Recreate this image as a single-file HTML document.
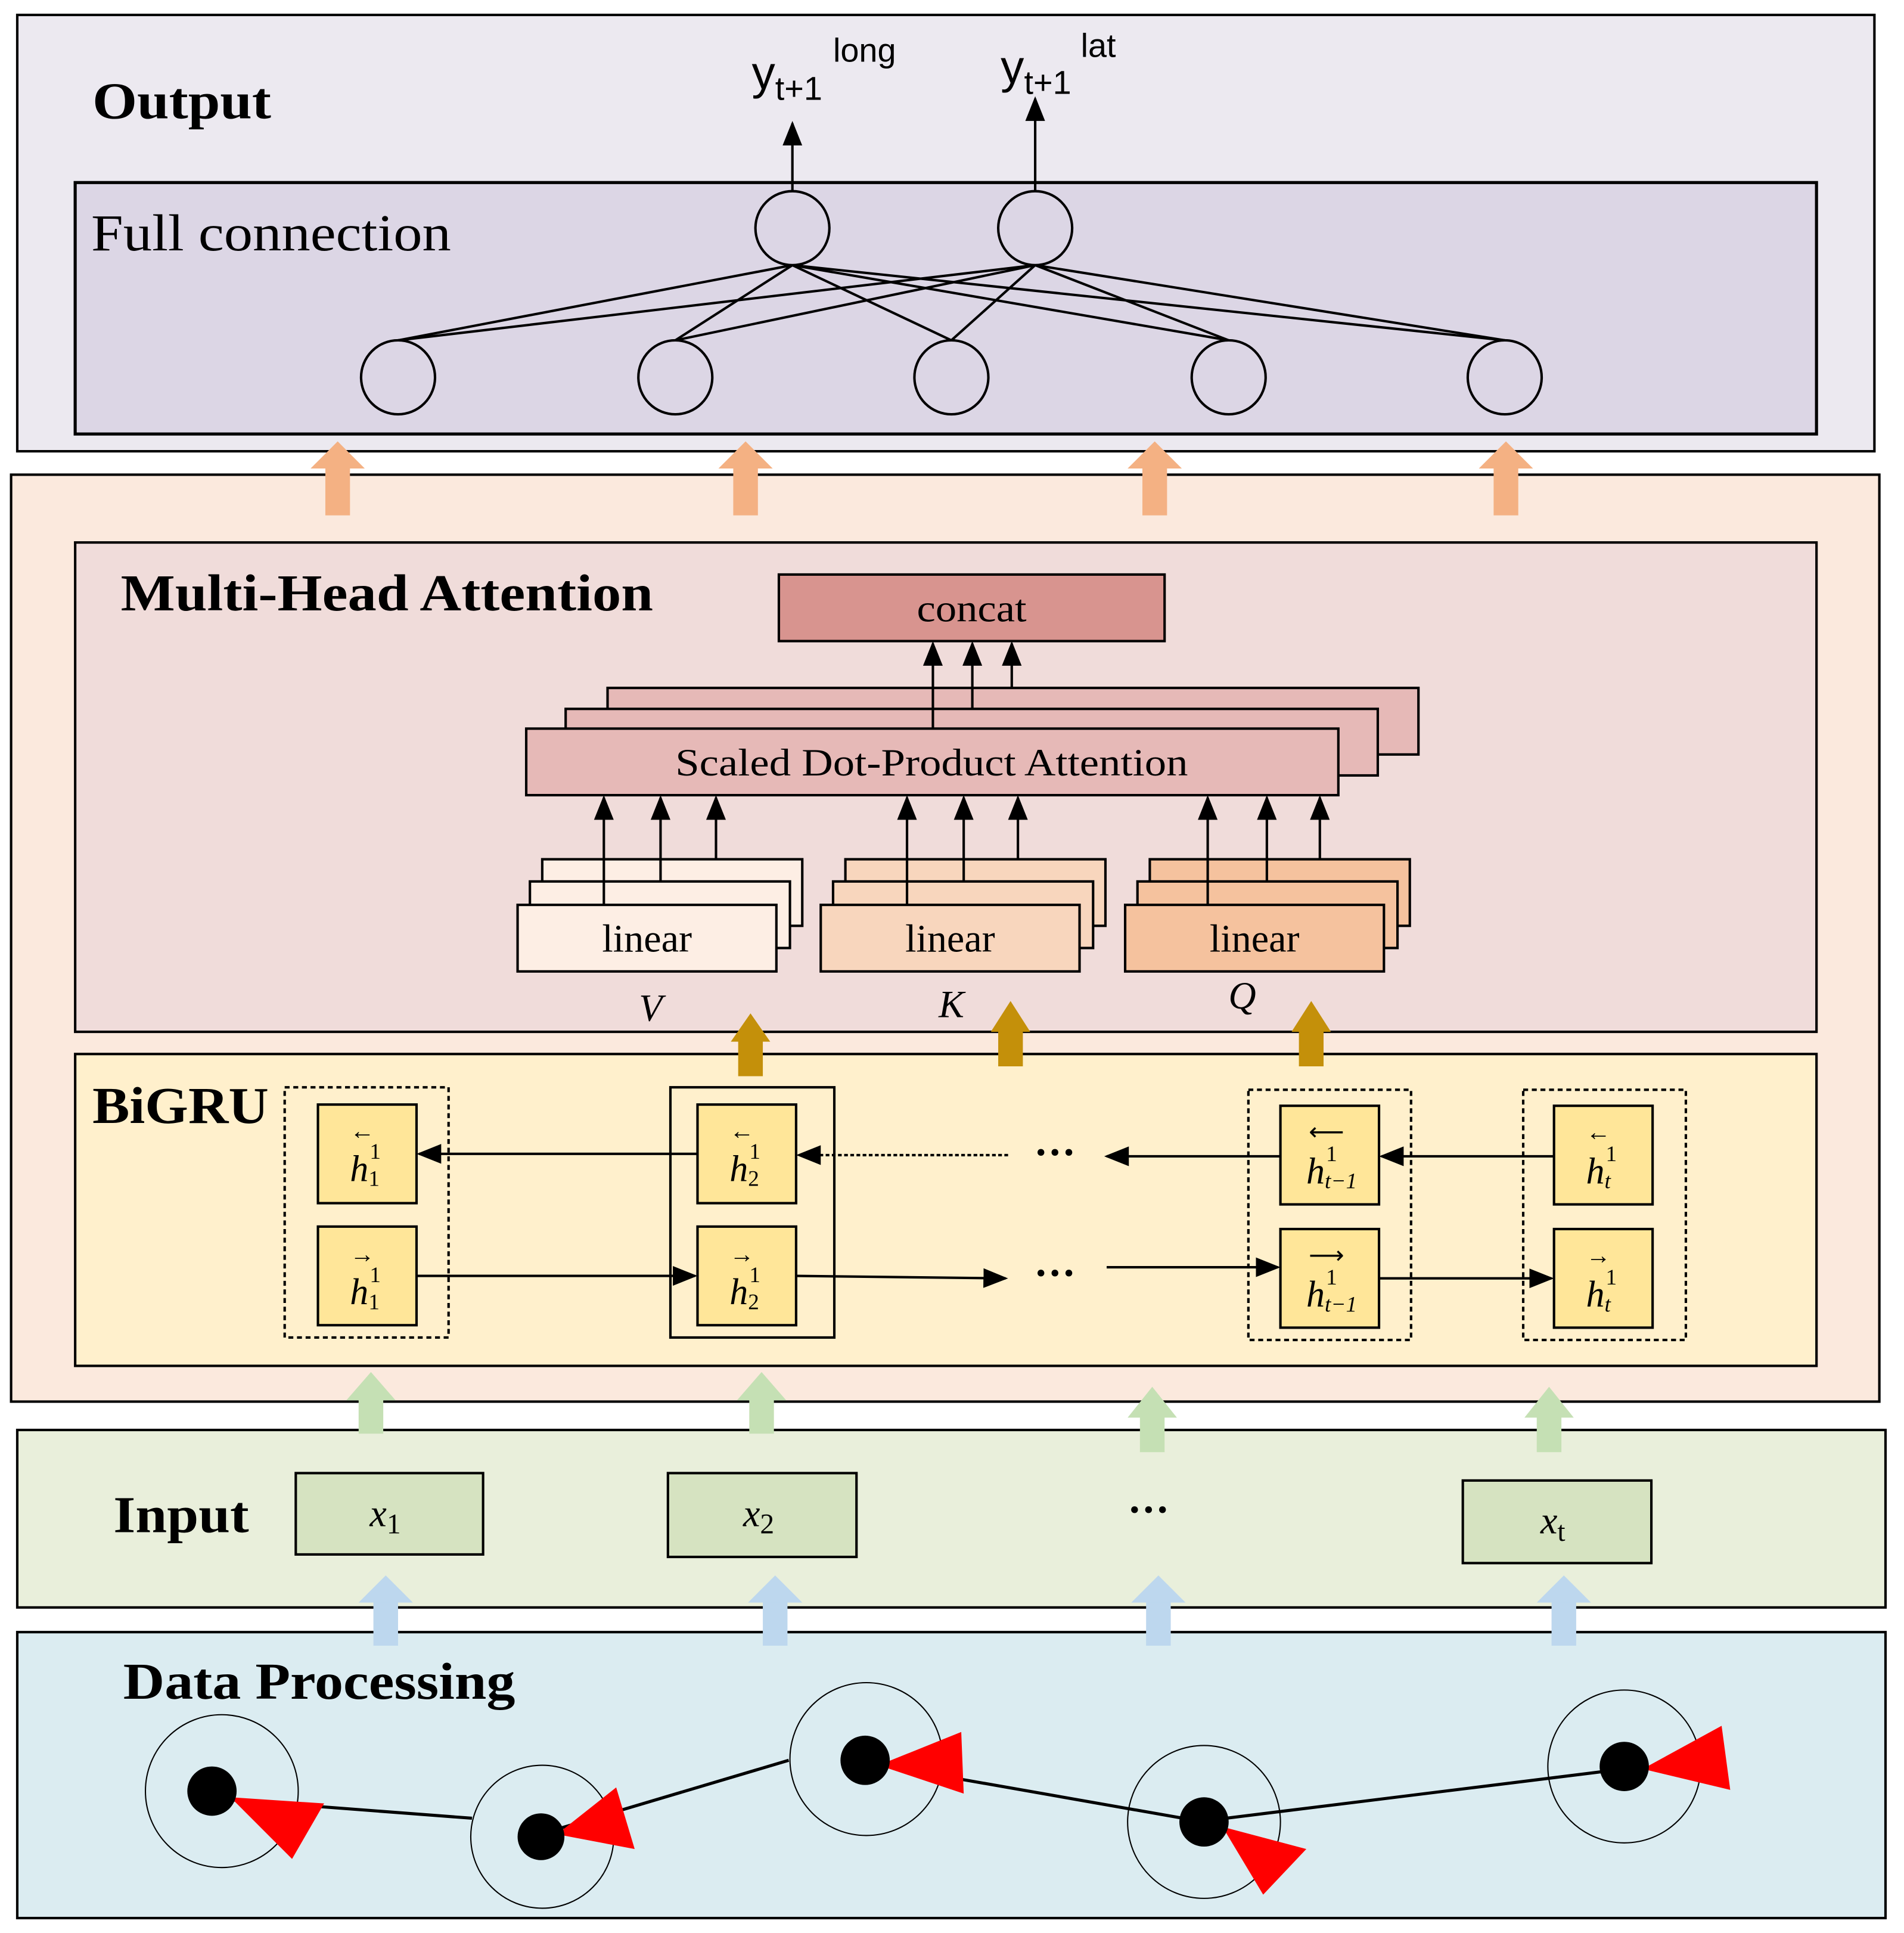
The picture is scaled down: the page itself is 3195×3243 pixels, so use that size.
<!DOCTYPE html>
<html><head><meta charset="utf-8"><style>html,body{margin:0;padding:0;background:#fff}svg{display:block}</style></head>
<body>
<svg width="3195" height="3243" viewBox="0 0 1545 1568" xmlns="http://www.w3.org/2000/svg" font-family="Liberation Serif, serif">
<defs>
<marker id="b" markerWidth="20" markerHeight="20" refX="18" refY="10" orient="auto" markerUnits="userSpaceOnUse" viewBox="0 0 20 20"><path d="M0,2 L20,10 L0,18 z" fill="#000"/></marker>
</defs>
<rect width="1545" height="1568" fill="#fff"/>
<!-- Output -->
<rect x="14" y="12" width="1507" height="354" fill="#ece9f0" stroke="#000" stroke-width="2"/>
<rect x="61" y="148" width="1413" height="204" fill="#dcd6e5" stroke="#000" stroke-width="2.5"/>
<text x="75" y="96" font-size="42" font-weight="bold" textLength="145" lengthAdjust="spacingAndGlyphs">Output</text>
<text x="74" y="203" font-size="42" textLength="292" lengthAdjust="spacingAndGlyphs">Full connection</text>
<g stroke="#000" stroke-width="2" fill="none">
<line x1="643" y1="215" x2="323" y2="276"/><line x1="643" y1="215" x2="548" y2="276"/><line x1="643" y1="215" x2="772" y2="276"/><line x1="643" y1="215" x2="997" y2="276"/><line x1="643" y1="215" x2="1221" y2="276"/>
<line x1="840" y1="215" x2="323" y2="276"/><line x1="840" y1="215" x2="548" y2="276"/><line x1="840" y1="215" x2="772" y2="276"/><line x1="840" y1="215" x2="997" y2="276"/><line x1="840" y1="215" x2="1221" y2="276"/>
<circle cx="643" cy="185" r="30" fill="#dcd6e5"/><circle cx="840" cy="185" r="30" fill="#dcd6e5"/>
<circle cx="323" cy="306" r="30" fill="#dcd6e5"/><circle cx="548" cy="306" r="30" fill="#dcd6e5"/><circle cx="772" cy="306" r="30" fill="#dcd6e5"/><circle cx="997" cy="306" r="30" fill="#dcd6e5"/><circle cx="1221" cy="306" r="30" fill="#dcd6e5"/>
<line x1="643" y1="155" x2="643" y2="100" marker-end="url(#b)"/>
<line x1="840" y1="155" x2="840" y2="80" marker-end="url(#b)"/>
</g>
<g font-family="Liberation Sans, sans-serif">
<text x="610" y="72" font-size="38">y<tspan font-size="27" dy="9">t+1</tspan></text><text x="676" y="50" font-size="27">long</text>
<text x="812" y="67" font-size="38">y<tspan font-size="27" dy="9">t+1</tspan></text><text x="877" y="46" font-size="27">lat</text>
</g>
<!-- Attention outer -->
<rect x="9" y="385" width="1516" height="752" fill="#fbe9dd" stroke="#000" stroke-width="2"/>
<g fill="#f4b183">
<rect x="264" y="378" width="20" height="40"/><path d="M252,380 L274,358 L296,380 z"/>
<rect x="595" y="378" width="20" height="40"/><path d="M583,380 L605,358 L627,380 z"/>
<rect x="927" y="378" width="20" height="40"/><path d="M915,380 L937,358 L959,380 z"/>
<rect x="1212" y="378" width="20" height="40"/><path d="M1200,380 L1222,358 L1244,380 z"/>
</g>
<rect x="61" y="440" width="1413" height="397" fill="#f0dcda" stroke="#000" stroke-width="2"/>
<text x="98" y="495" font-size="42" font-weight="bold" textLength="432" lengthAdjust="spacingAndGlyphs">Multi-Head Attention</text>
<rect x="632" y="466" width="313" height="54" fill="#d8948f" stroke="#000" stroke-width="2"/>
<text x="744" y="504" font-size="31" textLength="89" lengthAdjust="spacingAndGlyphs">concat</text>
<g stroke="#000" stroke-width="2">
<rect x="493" y="558" width="658" height="54" fill="#e6b9b7"/>
<rect x="459" y="575" width="659" height="54" fill="#e6b9b7"/>
<rect x="427" y="591" width="659" height="54" fill="#e6b9b7"/>
</g>
<text x="548" y="629" font-size="31" textLength="416" lengthAdjust="spacingAndGlyphs">Scaled Dot-Product Attention</text>
<g stroke="#000" stroke-width="2">
<line x1="757" y1="591" x2="757" y2="522" marker-end="url(#b)"/>
<line x1="789" y1="575" x2="789" y2="522" marker-end="url(#b)"/>
<line x1="821" y1="558" x2="821" y2="522" marker-end="url(#b)"/>
</g>
<!-- linear -->
<g stroke="#000" stroke-width="2">
<rect x="440" y="697" width="211" height="54" fill="#fdeee4"/><rect x="430" y="715" width="211" height="54" fill="#fdeee4"/><rect x="420" y="734" width="210" height="54" fill="#fdeee4"/>
<rect x="686" y="697" width="211" height="54" fill="#f8d6bd"/><rect x="676" y="715" width="211" height="54" fill="#f8d6bd"/><rect x="666" y="734" width="210" height="54" fill="#f8d6bd"/>
<rect x="933" y="697" width="211" height="54" fill="#f5c29e"/><rect x="923" y="715" width="211" height="54" fill="#f5c29e"/><rect x="913" y="734" width="210" height="54" fill="#f5c29e"/>
<line x1="490" y1="734" x2="490" y2="647" marker-end="url(#b)"/><line x1="536" y1="715" x2="536" y2="647" marker-end="url(#b)"/><line x1="581" y1="697" x2="581" y2="647" marker-end="url(#b)"/>
<line x1="736" y1="734" x2="736" y2="647" marker-end="url(#b)"/><line x1="782" y1="715" x2="782" y2="647" marker-end="url(#b)"/><line x1="826" y1="697" x2="826" y2="647" marker-end="url(#b)"/>
<line x1="980" y1="734" x2="980" y2="647" marker-end="url(#b)"/><line x1="1028" y1="715" x2="1028" y2="647" marker-end="url(#b)"/><line x1="1071" y1="697" x2="1071" y2="647" marker-end="url(#b)"/>
</g>
<g font-size="32" text-anchor="middle"><text x="525" y="772">linear</text><text x="771" y="772">linear</text><text x="1018" y="772">linear</text></g>
<g font-size="31" font-style="italic" text-anchor="middle"><text x="528" y="828">V</text><text x="772" y="825">K</text><text x="1008" y="818">Q</text></g>
<!-- BiGRU -->
<rect x="61" y="855" width="1413" height="253" fill="#fff0cc" stroke="#000" stroke-width="2"/>
<g fill="#c4900a">
<rect x="599" y="842" width="20" height="31"/><path d="M593,845 L609,822 L625,845 z"/>
<rect x="810" y="834" width="20" height="31"/><path d="M804,837 L820,812 L836,837 z"/>
<rect x="1054" y="834" width="20" height="31"/><path d="M1048,837 L1064,812 L1080,837 z"/>
</g>
<text x="75" y="911" font-size="42" font-weight="bold" textLength="143" lengthAdjust="spacingAndGlyphs">BiGRU</text>
<g fill="none" stroke="#000" stroke-width="2">
<rect x="231" y="882" width="133" height="203" stroke-dasharray="4,3"/>
<rect x="544" y="882" width="133" height="203"/>
<rect x="1013" y="884" width="132" height="203" stroke-dasharray="4,3"/>
<rect x="1236" y="884" width="132" height="203" stroke-dasharray="4,3"/>
</g>
<g fill="#ffe699" stroke="#000" stroke-width="2">
<rect x="258" y="896" width="80" height="80"/><rect x="258" y="995" width="80" height="80"/>
<rect x="566" y="896" width="80" height="80"/><rect x="566" y="995" width="80" height="80"/>
<rect x="1039" y="897" width="80" height="80"/><rect x="1039" y="997" width="80" height="80"/>
<rect x="1261" y="897" width="80" height="80"/><rect x="1261" y="997" width="80" height="80"/>
</g>
<g stroke="#000" stroke-width="2" fill="none">
<line x1="566" y1="936" x2="340" y2="936" marker-end="url(#b)"/>
<line x1="818" y1="937" x2="648" y2="937" stroke-dasharray="3,2" marker-end="url(#b)"/>
<line x1="1039" y1="938" x2="898" y2="938" marker-end="url(#b)"/>
<line x1="1261" y1="938" x2="1121" y2="938" marker-end="url(#b)"/>
<line x1="338" y1="1035" x2="564" y2="1035" marker-end="url(#b)"/>
<line x1="646" y1="1035" x2="816" y2="1037" marker-end="url(#b)"/>
<line x1="898" y1="1028" x2="1037" y2="1028" marker-end="url(#b)"/>
<line x1="1119" y1="1037" x2="1259" y2="1037" marker-end="url(#b)"/>
</g>
<g font-size="34" font-weight="bold" text-anchor="middle"><text x="856" y="946">···</text><text x="856" y="1044">···</text></g>
<g font-size="30" font-style="italic">
<text x="284" y="958">h</text><text x="300" y="940" font-size="18" font-style="normal">1</text><text x="299" y="962" font-size="18" font-style="normal">1</text><text x="284" y="924" font-size="20" font-style="normal">←</text>
<text x="284" y="1058">h</text><text x="300" y="1040" font-size="18" font-style="normal">1</text><text x="299" y="1062" font-size="18" font-style="normal">1</text><text x="284" y="1024" font-size="20" font-style="normal">→</text>
<text x="592" y="958">h</text><text x="608" y="940" font-size="18" font-style="normal">1</text><text x="607" y="962" font-size="18" font-style="normal">2</text><text x="592" y="924" font-size="20" font-style="normal">←</text>
<text x="592" y="1058">h</text><text x="608" y="1040" font-size="18" font-style="normal">1</text><text x="607" y="1062" font-size="18" font-style="normal">2</text><text x="592" y="1024" font-size="20" font-style="normal">→</text>
<text x="1060" y="960">h</text><text x="1076" y="942" font-size="18" font-style="normal">1</text><text x="1075" y="964" font-size="18">t−1</text><text x="1062" y="925" font-size="20" font-style="normal">⟵</text>
<text x="1060" y="1060">h</text><text x="1076" y="1042" font-size="18" font-style="normal">1</text><text x="1075" y="1064" font-size="18">t−1</text><text x="1062" y="1025" font-size="20" font-style="normal">⟶</text>
<text x="1287" y="960">h</text><text x="1303" y="942" font-size="18" font-style="normal">1</text><text x="1302" y="964" font-size="18">t</text><text x="1287" y="925" font-size="20" font-style="normal">←</text>
<text x="1287" y="1060">h</text><text x="1303" y="1042" font-size="18" font-style="normal">1</text><text x="1302" y="1064" font-size="18">t</text><text x="1287" y="1025" font-size="20" font-style="normal">→</text>
</g>
<!-- Input -->
<rect x="14" y="1160" width="1516" height="144" fill="#e9efdb" stroke="#000" stroke-width="2"/>
<g fill="#c5e0b4">
<rect x="291" y="1133" width="20" height="30"/><path d="M281,1136 L301,1113 L321,1136 z"/>
<rect x="608" y="1133" width="20" height="30"/><path d="M598,1136 L618,1113 L638,1136 z"/>
<rect x="925" y="1148" width="20" height="30"/><path d="M915,1150 L935,1125 L955,1150 z"/>
<rect x="1247" y="1148" width="20" height="30"/><path d="M1237,1150 L1257,1125 L1277,1150 z"/>
</g>
<text x="92" y="1243" font-size="42" font-weight="bold" textLength="110" lengthAdjust="spacingAndGlyphs">Input</text>
<g fill="#d6e3c1" stroke="#000" stroke-width="2">
<rect x="240" y="1195" width="152" height="66"/><rect x="542" y="1195" width="153" height="68"/><rect x="1187" y="1201" width="153" height="67"/>
</g>
<g font-size="31" font-style="italic"><text x="300" y="1238">x<tspan font-size="23" font-style="normal" dy="6">1</tspan></text><text x="603" y="1238">x<tspan font-size="23" font-style="normal" dy="6">2</tspan></text><text x="1250" y="1244">x<tspan font-size="23" font-style="normal" dy="6">t</tspan></text></g>
<text x="932" y="1236" font-size="34" font-weight="bold" text-anchor="middle">···</text>
<!-- Data processing -->
<rect x="14" y="1324" width="1516" height="232" fill="#dbecf1" stroke="#000" stroke-width="2"/>
<g fill="#bdd7ee">
<rect x="303" y="1298" width="20" height="37"/><path d="M291,1300 L313,1278 L335,1300 z"/>
<rect x="619" y="1298" width="20" height="37"/><path d="M607,1300 L629,1278 L651,1300 z"/>
<rect x="930" y="1298" width="20" height="37"/><path d="M918,1300 L940,1278 L962,1300 z"/>
<rect x="1259" y="1298" width="20" height="37"/><path d="M1247,1300 L1269,1278 L1291,1300 z"/>
</g>
<text x="100" y="1378" font-size="42" font-weight="bold" textLength="318" lengthAdjust="spacingAndGlyphs">Data Processing</text>
<g fill="none" stroke="#000" stroke-width="1">
<circle cx="180" cy="1453" r="62"/><circle cx="440" cy="1490" r="58"/><circle cx="703" cy="1427" r="62"/><circle cx="977" cy="1478" r="62"/><circle cx="1318" cy="1433" r="62"/>
</g>
<g stroke="#000" stroke-width="2.5">
<line x1="186" y1="1460" x2="383" y2="1475"/><line x1="455" y1="1483" x2="640" y2="1428"/><line x1="715" y1="1432" x2="977" y2="1478"/><line x1="995" y1="1475" x2="1318" y2="1435"/>
</g>
<g fill="#ff0000">
<path d="M187,1458 L263,1463 L237,1508 z"/>
<path d="M452,1488 L500,1450 L515,1500 z"/>
<path d="M713,1432 L780,1405 L782,1455 z"/>
<path d="M992,1482 L1060,1500 L1025,1537 z"/>
<path d="M1333,1435 L1397,1400 L1404,1452 z"/>
</g>
<g fill="#000">
<circle cx="172" cy="1453" r="20"/><circle cx="439" cy="1490" r="19"/><circle cx="702" cy="1428" r="20"/><circle cx="977" cy="1478" r="20"/><circle cx="1318" cy="1433" r="20"/>
</g>
</svg>
</body></html>
